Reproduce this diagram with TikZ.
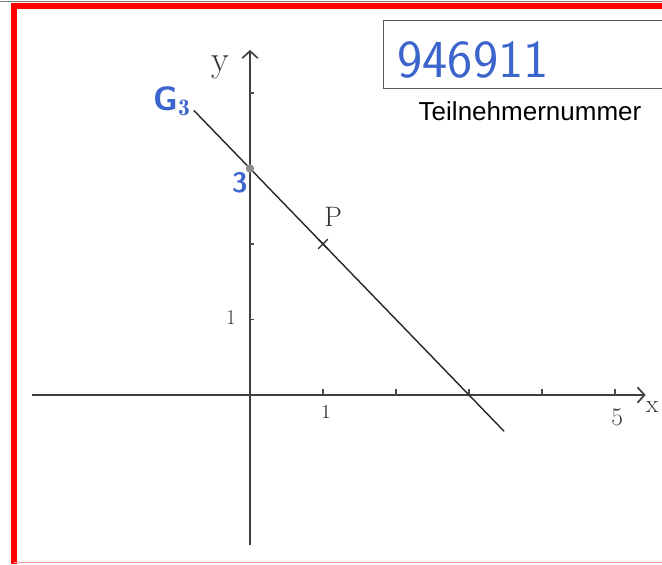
\documentclass[tikz,border=0pt]{standalone}
\usepackage{fontspec}
\newfontfamily\printfont{Liberation Sans}
\usetikzlibrary{positioning, arrows.meta, shapes.misc}
\definecolor{pen}{RGB}{60,100,205}
\definecolor{framered}{RGB}{255,0,0}

\begin{document}
\begin{tikzpicture}[
    axis/.style={line width=1.2pt, draw=black!75, -{Straight Barb[length=5pt, width=11pt]}},
    gline/.style={line width=1pt, draw=black!85},
    tick/.style={line width=0.8pt, draw=black!70},
    hand/.style={text=black!80, inner sep=0pt},
    ink/.style={text=pen, inner sep=0pt},
    numbox/.style={rectangle, draw=black!65, line width=0.8pt, minimum width=7.425cm, minimum height=1.7cm, inner sep=0pt}
]
    \useasboundingbox (0,0) rectangle (16.55,14.1);
    % scan border
    \draw[black!50, line width=0.6pt] (0,14.07) -- (16.55,14.07);
    \draw[framered, line width=3.9pt] (0.35,0) -- (0.35,13.95) -- (16.8,13.95);
    \draw[framered!40, line width=0.5pt] (0.35,0.03) -- (16.8,0.03);

    % participant number
    \node (box) [numbox, anchor=north west] at (9.575,13.6) {};
    \node (number) [ink, font=\sffamily\fontsize{38}{38}\selectfont] at (11.825,12.6) {946911};
    \node (caption) [inner sep=0pt, font=\printfont\fontsize{18.5}{18.5}\selectfont] at (13.25,11.33) {Teilnehmernummer};

    \begin{scope}[shift={(6.25,4.225)}, x=1.825cm, y=1.8875cm]
        \coordinate (xstart) at (-2.99,0);
        \coordinate (xend) at (5.42,0);
        \coordinate (ystart) at (0,-1.99);
        \coordinate (yend) at (0,4.57);
        \coordinate (gstart) at (-0.77,3.77);
        \coordinate (gend) at (3.48,-0.48);

        \draw[axis] (xstart) -- (xend);
        \draw[axis] (ystart) -- (yend);
        \foreach \i in {1,...,5}
            \draw[tick] (\i,0) -- (\i,0.08);
        \foreach \j in {1,2,4}
            \draw[tick] (0,\j) -- (0.06,\j);

        \draw[gline] (gstart) -- (gend);
        \node (yint) [circle, fill=black!45, minimum size=6pt, inner sep=0pt] at (0,3) {};
        \node (pmark) [cross out, draw=black!85, line width=0.8pt, minimum size=6pt, inner sep=0pt] at (1,2) {};

        % labels
        \node (ylabel) [hand, font=\fontsize{26}{26}\selectfont] at (-0.41,4.34) {y};
        \node (xlabel) [hand, font=\fontsize{18}{18}\selectfont] at (5.51,-0.16) {x};
        \node (xone) [hand, font=\fontsize{14}{14}\selectfont] at (1.04,-0.23) {1};
        \node (xfive) [hand, font=\fontsize{18}{18}\selectfont] at (5.03,-0.30) {5};
        \node (yone) [hand, font=\fontsize{15}{15}\selectfont] at (-0.26,1.02) {1};
        \node (plabel) [hand, font=\fontsize{20}{20}\selectfont] at (1.14,2.36) {P};
        \node (glabel) [ink, font=\sffamily\bfseries\fontsize{24}{24}\selectfont] at (-1.07,3.89) {G$_{\mathbf{3}}$};
        \node (ythree) [ink, font=\sffamily\bfseries\fontsize{20}{20}\selectfont] at (-0.14,2.81) {3};
    \end{scope}
\end{tikzpicture}
\end{document}
